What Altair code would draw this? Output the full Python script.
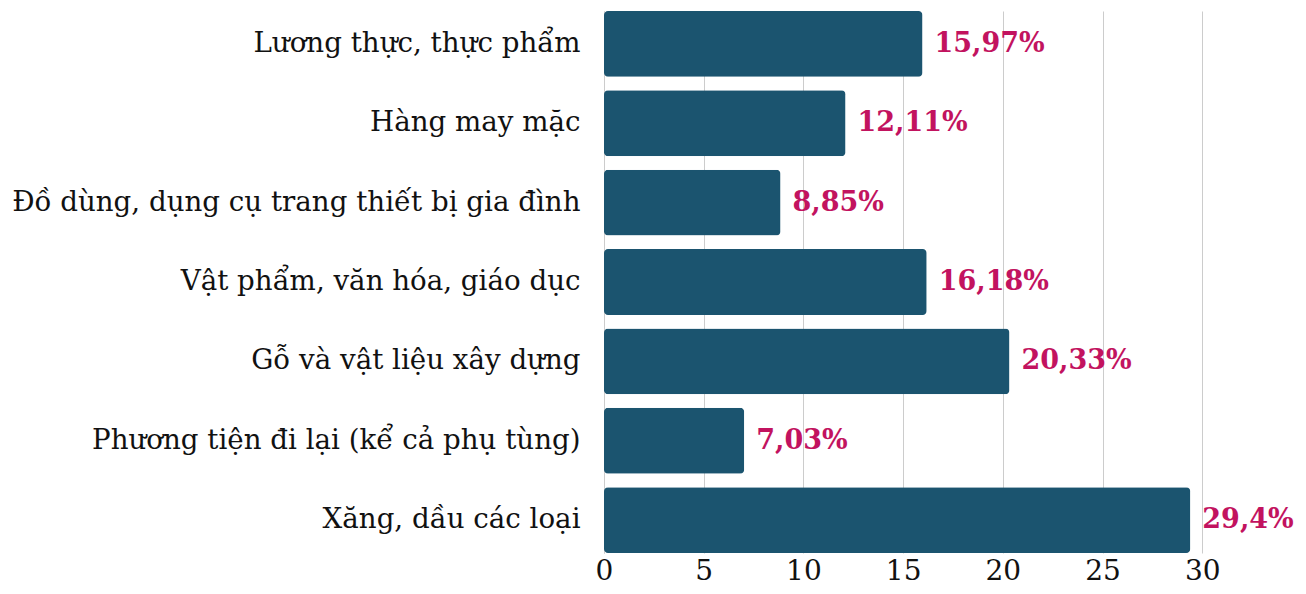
import altair as alt
import pandas as pd

categories = [
    "Lương thực, thực phẩm",
    "Hàng may mặc",
    "Đồ dùng, dụng cụ trang thiết bị gia đình",
    "Vật phẩm, văn hóa, giáo dục",
    "Gỗ và vật liệu xây dựng",
    "Phương tiện đi lại (kể cả phụ tùng)",
    "Xăng, dầu các loại",
]
values = [15.97, 12.11, 8.85, 16.18, 20.33, 7.03, 29.4]
labels = ["15,97%", "12,11%", "8,85%", "16,18%", "20,33%", "7,03%", "29,4%"]
ticks = [0, 5, 10, 15, 20, 25, 30]

df = pd.DataFrame({"cat": categories, "val": values, "lab": labels})

y = alt.Y("cat:N", sort=categories, title=None,
          scale=alt.Scale(paddingInner=0.17, paddingOuter=0),
          axis=alt.Axis(labelFont="DejaVu Serif", labelFontSize=27.7, labelColor="#111111",
                        ticks=False, domain=True, domainColor="#cccccc", labelPadding=24,
                        labelLimit=800))
x = alt.X("val:Q", title=None,
          scale=alt.Scale(domain=[0, 34.8], nice=False),
          axis=alt.Axis(values=ticks, labelFont="DejaVu Serif", labelFontSize=28,
                        labelColor="#111111", ticks=False, domain=False, labelFlush=False,
                        grid=True, gridColor="#cccccc", labelPadding=4))

bars = alt.Chart(df).mark_bar(color="#1b546f", cornerRadius=4).encode(y=y, x=x)
text = alt.Chart(df).mark_text(align="left", baseline="middle", dx=12,
                               font="DejaVu Serif", fontWeight="bold", fontSize=27,
                               color="#c2135f").encode(y=y, x=x, text="lab:N")

chart = (bars + text).properties(
    width=694, height=542,
    padding={"left": 596, "top": 3, "right": 0, "bottom": 33},
    autosize=alt.AutoSizeParams(type="none"),
).configure_view(stroke=None)

chart.save("out.html", embed_options={"renderer": "svg", "actions": False})
